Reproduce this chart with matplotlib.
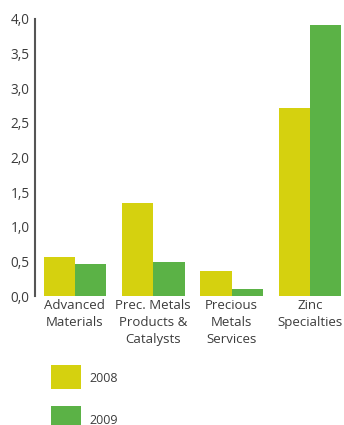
import matplotlib
matplotlib.use("Agg")
import matplotlib.pyplot as plt
from matplotlib.patches import Rectangle
import numpy as np

categories = ["Advanced\nMaterials", "Prec. Metals\nProducts &\nCatalysts", "Precious\nMetals\nServices", "Zinc\nSpecialties"]
series_names = ["2008", "2009"]
values_2008 = [0.56, 1.34, 0.36, 2.72]
values_2009 = [0.46, 0.49, 0.10, 3.92]
yticks = [0.0, 0.5, 1.0, 1.5, 2.0, 2.5, 3.0, 3.5, 4.0]
ytick_labels = ["0,0", "0,5", "1,0", "1,5", "2,0", "2,5", "3,0", "3,5", "4,0"]

c2008 = "#d5d10f"
c2009 = "#5bb246"
txt = "#3c3c3c"

plt.rcParams['font.family'] = ['Open Sans', 'DejaVu Sans']

W, H = 344, 425
fig = plt.figure(figsize=(W / 100, H / 100), dpi=100)
ax = fig.add_axes([35 / W, 1 - 296 / H, 1 - 35 / W, (296 - 19) / H])

x = np.arange(len(categories))
bw = 0.40
ax.bar(x - bw / 2, values_2008, bw, color=c2008, linewidth=0)
ax.bar(x + bw / 2, values_2009, bw, color=c2009, linewidth=0)

ax.set_xlim(-0.51, 3.436)
ax.set_ylim(0, 4.0)
ax.set_yticks(yticks)
ax.set_yticklabels(ytick_labels, fontsize=9.8, color=txt)
ax.set_xticks(x)
ax.set_xticklabels(categories, fontsize=9.5, color=txt, linespacing=1.4)
ax.tick_params(axis='both', length=0, pad=4)
ax.tick_params(axis='x', pad=2)
for s in ["top", "right", "bottom"]:
    ax.spines[s].set_visible(False)
ax.spines["left"].set_color("#555555")
ax.spines["left"].set_linewidth(1.5)

# legend
for i, (name, col) in enumerate(zip(series_names, [c2008, c2009])):
    y0 = 365 + i * 41
    fig.patches.append(Rectangle((51 / W, 1 - (y0 + 24) / H), 30 / W, 24 / H,
                                 transform=fig.transFigure, color=col, linewidth=0))
    fig.text(89 / W, 1 - (y0 + 14) / H, name, fontsize=9, color=txt, va='center', ha='left')

fig.savefig("out.png", dpi=100)
